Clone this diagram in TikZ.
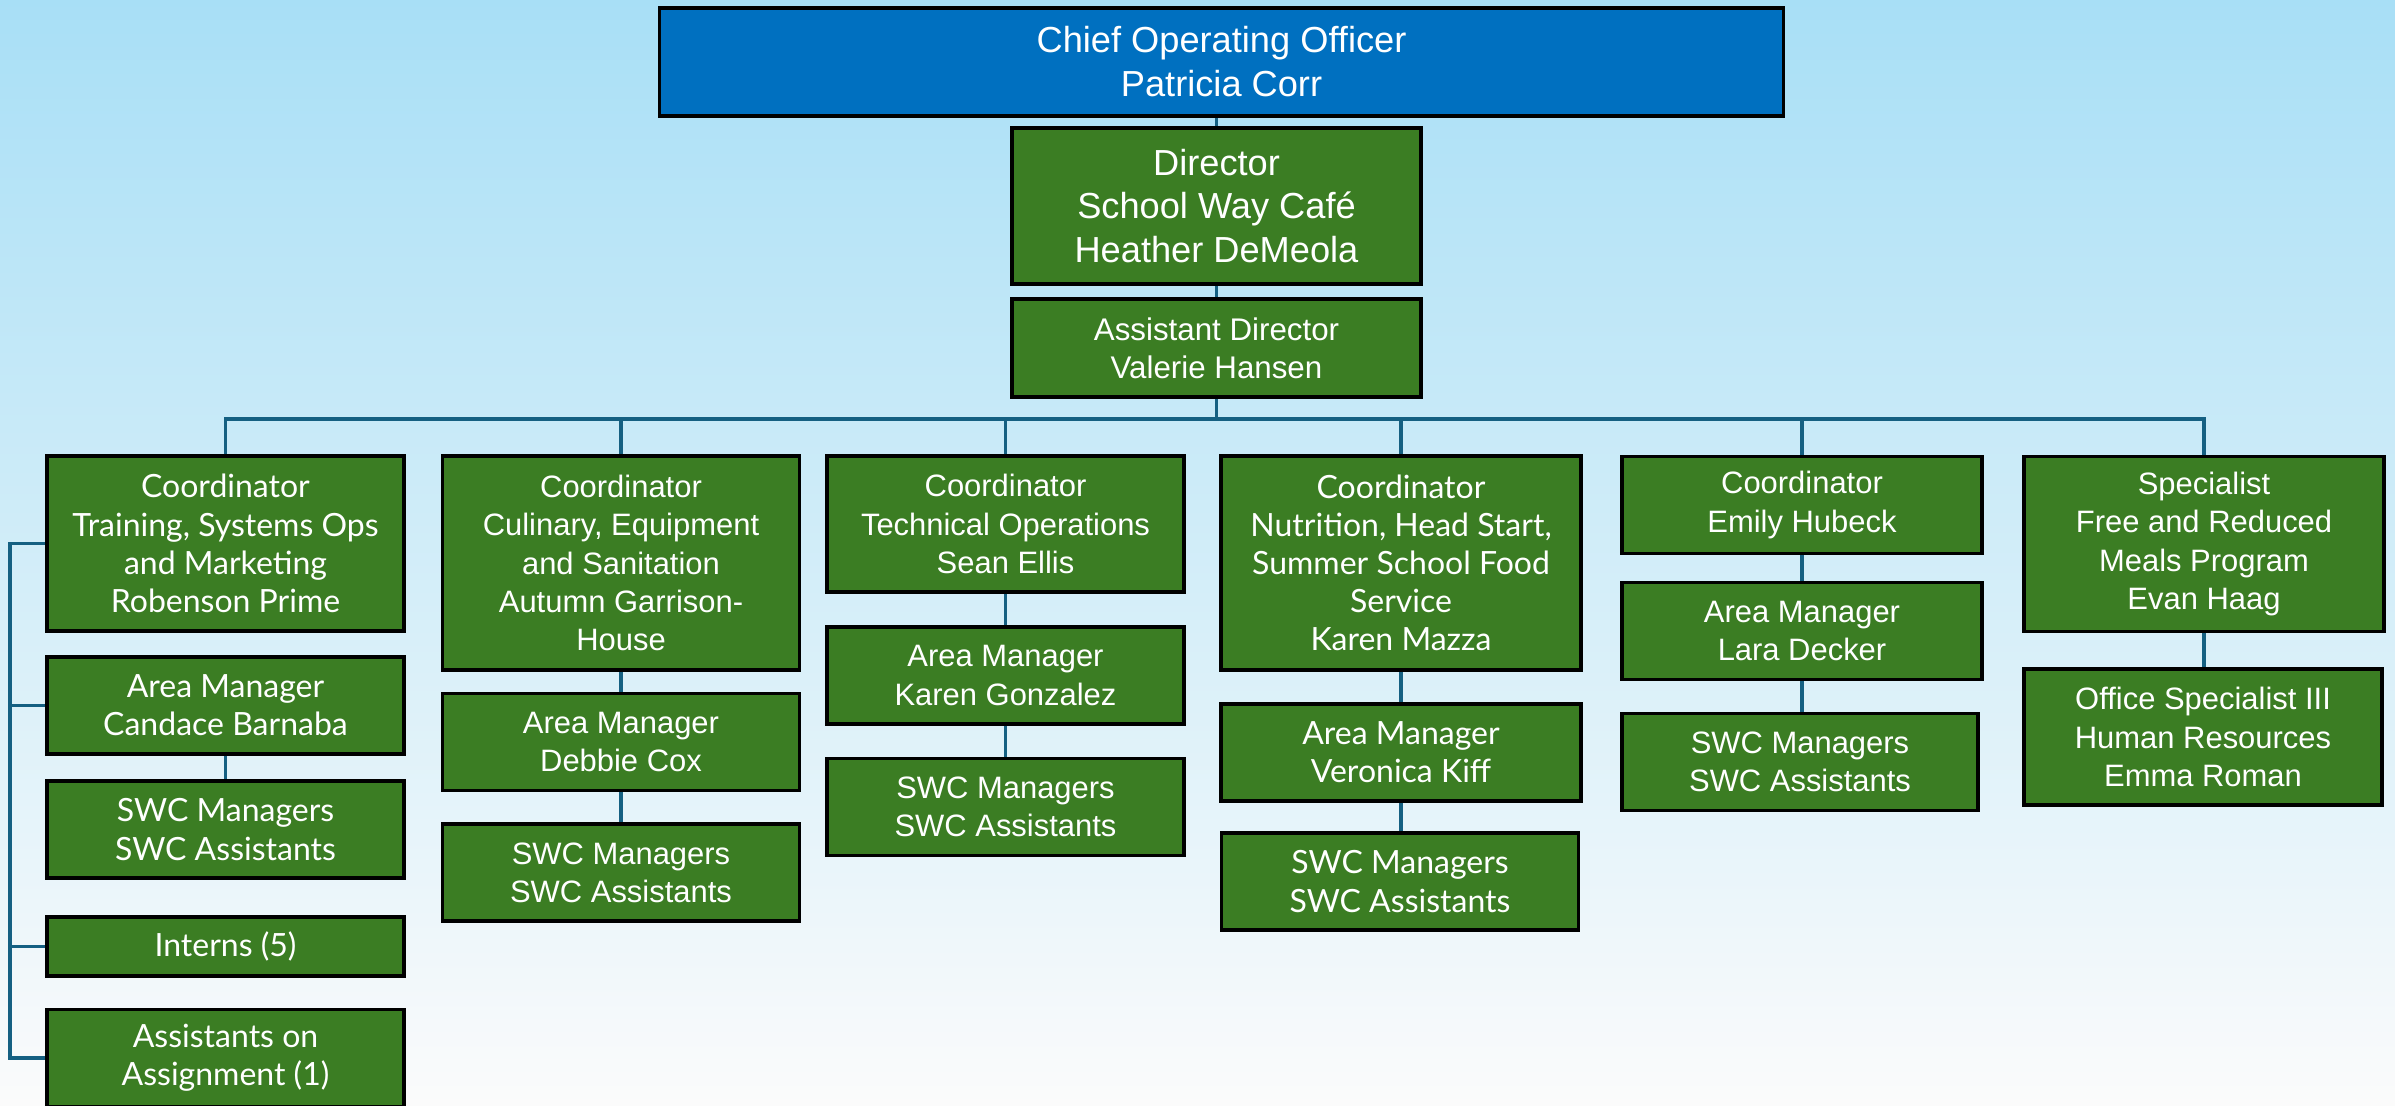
\documentclass[tikz,border=0pt]{standalone}
\usepackage{fontspec}
\setmainfont{Liberation Sans}
\newfontfamily\widefont{Lato}
\usepackage{tikz}

\definecolor{bgtop}{RGB}{168,223,246}
\definecolor{bgmid}{RGB}{244,250,253}
\definecolor{bgbot}{RGB}{251,251,251}
\definecolor{cooblue}{RGB}{0,112,192}
\definecolor{boxgreen}{RGB}{59,125,35}
\definecolor{linkblue}{RGB}{21,96,130}

\begin{document}
\begin{tikzpicture}[x=0.01cm, y=-0.01cm,
    box/.style={draw=black, line width=1pt, text=white, align=center, inner sep=0pt,
        font=\fontsize{8.8}{10.85}\selectfont},
    gbox/.style={box, fill=boxgreen, minimum width=3.57cm},
    wbox/.style={gbox, font=\widefont\fontsize{9.1}{10.85}\selectfont},
    big/.style={font=\fontsize{10.3}{12.5}\selectfont},
    one/.style={minimum height=0.59cm},
    two/.style={minimum height=0.97cm},
    three/.style={minimum height=1.36cm},
    four/.style={minimum height=1.75cm},
    five/.style={minimum height=2.14cm},
    link/.style={draw=linkblue, line width=1.05pt}]
    % Hintergrund
    \useasboundingbox (0,0) rectangle (2395,1105);
    \shade[top color=bgtop, middle color=bgmid, bottom color=bgbot] (0,0) rectangle (2395,1105);

    % Leitung
    \node[box, big, fill=cooblue, minimum width=11.23cm, minimum height=1.08cm] (coo) at (1221.5,62) {Chief Operating Officer\\Patricia Corr};
    \node[gbox, big, minimum width=4.09cm, minimum height=1.56cm] (dir) at (1216.5,206) {Director\\School Way Café\\Heather DeMeola};
    \node[gbox, minimum width=4.09cm, minimum height=0.98cm, font=\fontsize{8.9}{10.7}\selectfont] (asst) at (1216.5,348) {Assistant Director\\Valerie Hansen};

    % Spalte 1
    \node[wbox, four] (c1) at (225.5,543.5) {Coordinator\\Training, Systems Ops\\and Marketing\\Robenson Prime};
    \node[wbox, two] (am1) at (225.5,705.5) {Area Manager\\Candace Barnaba};
    \node[wbox, two] (swc1) at (225.5,829.5) {SWC Managers\\SWC Assistants};
    \node[wbox, one] (intern) at (225.5,946.5) {Interns (5)};
    \node[wbox, two] (assign) at (225.5,1058) {Assistants on\\Assignment (1)};

    % Spalte 2
    \node[gbox, five] (c2) at (621,563) {Coordinator\\Culinary, Equipment\\and Sanitation\\Autumn Garrison-\\House};
    \node[gbox, two] (am2) at (621,742) {Area Manager\\Debbie Cox};
    \node[gbox, two] (swc2) at (621,872.5) {SWC Managers\\SWC Assistants};

    % Spalte 3
    \node[gbox, three] (c3) at (1005.5,524) {Coordinator\\Technical Operations\\Sean Ellis};
    \node[gbox, two] (am3) at (1005.5,675.5) {Area Manager\\Karen Gonzalez};
    \node[gbox, two] (swc3) at (1005.5,807) {SWC Managers\\SWC Assistants};

    % Spalte 4
    \node[wbox, five, minimum width=3.6cm] (c4) at (1401,563) {Coordinator\\Nutrition, Head Start,\\Summer School Food\\Service\\Karen Mazza};
    \node[wbox, two, minimum width=3.6cm] (am4) at (1401,752.5) {Area Manager\\Veronica Kiff};
    \node[wbox, two] (swc4) at (1400,881.5) {SWC Managers\\SWC Assistants};

    % Spalte 5
    \node[gbox, two, minimum width=3.6cm] (c5) at (1802,505) {Coordinator\\Emily Hubeck};
    \node[gbox, two, minimum width=3.6cm] (am5) at (1802,631) {Area Manager\\Lara Decker};
    \node[gbox, two, minimum width=3.56cm] (swc5) at (1800,762) {SWC Managers\\SWC Assistants};

    % Spalte 6
    \node[gbox, four, minimum width=3.6cm] (c6) at (2204,544) {Specialist\\Free and Reduced\\Meals Program\\Evan Haag};
    \node[gbox, three, minimum width=3.58cm] (os6) at (2203,737) {Office Specialist III\\Human Resources\\Emma Roman};

    % Verbindungen
    \coordinate (bus) at (0,419);
    \coordinate (brk) at (10,0);
    \draw[link] (dir.north) -- (dir.north |- coo.south);
    \draw[link] (asst.north) -- (dir.south);
    \draw[link] (asst.south) -- (asst.south |- bus);
    \draw[link] (c1.north) -- (c1.north |- bus) -- (c6.north |- bus) -- (c6.north);
    \foreach \n in {c2,c3,c4,c5}
        \draw[link] (\n.north) -- (\n.north |- bus);
    \foreach \a/\b in {am1/swc1, c2/am2, am2/swc2, c3/am3, am3/swc3, c4/am4, am4/swc4, c5/am5, am5/swc5, c6/os6}
        \draw[link] (\a.south) -- (\a.south |- \b.north);
    \draw[link] (c1.west) -- (c1.west -| brk) -- (assign.west -| brk) -- (assign.west);
    \foreach \n in {am1,intern}
        \draw[link] (\n.west) -- (\n.west -| brk);
\end{tikzpicture}
\end{document}
